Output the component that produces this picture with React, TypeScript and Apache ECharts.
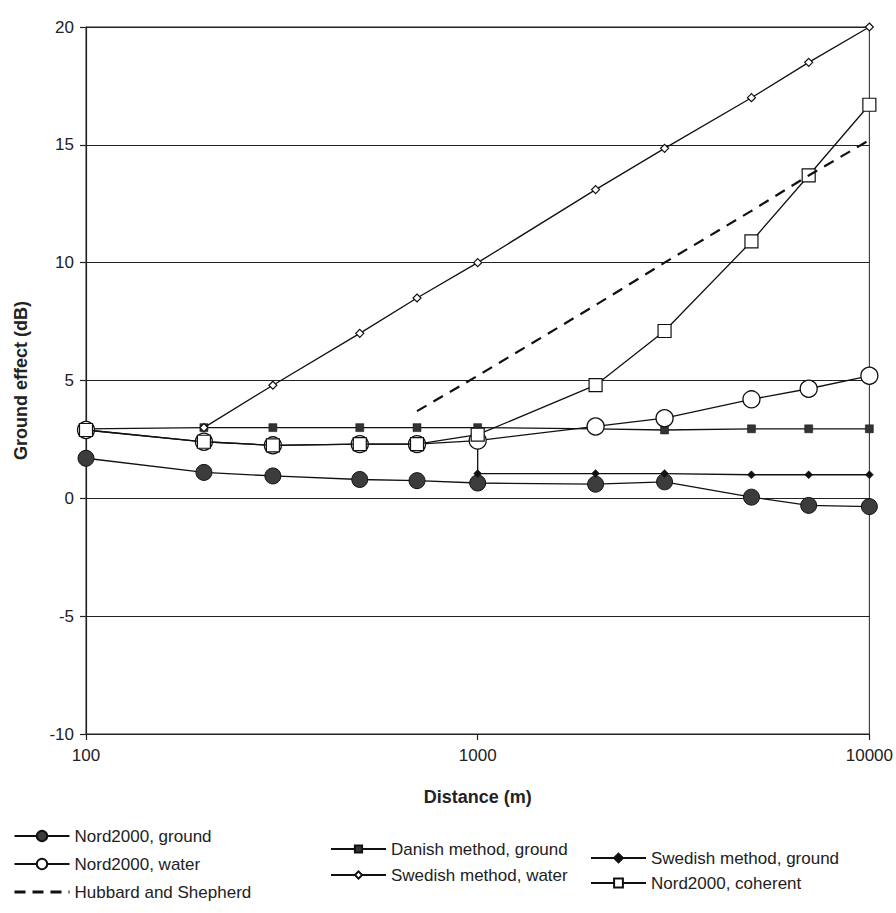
import React, { useEffect, useRef } from "react";
import * as echarts from "echarts";

const distances = [100, 200, 300, 500, 700, 1000, 2000, 3000, 5000, 7000, 10000];
const nordGround = [1.7, 1.1, 0.95, 0.8, 0.75, 0.65, 0.6, 0.7, 0.05, -0.3, -0.35];
const danishGround = [2.95, 3.0, 3.0, 3.0, 3.0, 3.0, 2.95, 2.9, 2.95, 2.95, 2.95];
const nordWater = [2.9, 2.4, 2.25, 2.3, 2.3, 2.45, 3.05, 3.4, 4.2, 4.65, 5.2];
const swedishWater = [null, 3.0, 4.8, 7.0, 8.5, 10.0, 13.1, 14.85, 17.0, 18.5, 20.0];
const nordCoherent = [2.9, 2.4, 2.25, 2.3, 2.3, 2.7, 4.8, 7.1, 10.9, 13.7, 16.7];
const swedishGroundDist = [1000, 1000, 2000, 3000, 5000, 7000, 10000];
const swedishGround = [2.45, 1.05, 1.05, 1.05, 1.0, 1.0, 1.0];
const hubbardDist = [700, 1000, 2000, 3000, 5000, 7000, 10000];
const hubbard = [3.7, 5.2, 8.2, 10.0, 12.2, 13.7, 15.2];

const yTicks = [-10, -5, 0, 5, 10, 15, 20];

const pair = (xs: number[], ys: (number | null)[]) =>
  xs.map((x, i) => [x, ys[i] === null ? "-" : ys[i]]);

const FONT = "'Liberation Sans', Arial, sans-serif";

export default function App() {
  const ref = useRef<HTMLDivElement>(null);
  useEffect(() => {
    if (!ref.current) return;
    const chart = echarts.init(ref.current, undefined, { renderer: "svg" });
    const lineBase = { color: "#111", width: 1.3 };
    const legendText = { fontFamily: FONT, fontSize: 17, color: "#222", lineHeight: 20 };
    const option: any = {
      animation: false,
      backgroundColor: "#fff",
      textStyle: { fontFamily: FONT, color: "#222" },
      grid: {
        left: 86,
        top: 27,
        width: 785,
        height: 707,
        show: true,
        borderColor: "#222",
        borderWidth: 1,
        backgroundColor: "transparent",
      },
      xAxis: {
        type: "log",
        logBase: 10,
        min: 100,
        max: 10000,
        name: "Distance (m)",
        nameLocation: "middle",
        nameGap: 54,
        nameTextStyle: { fontFamily: FONT, fontWeight: "bold", fontSize: 18, color: "#222" },
        axisLine: { show: true, onZero: false, lineStyle: { color: "#222", width: 1.2 } },
        axisTick: { show: true, inside: false, length: 6, lineStyle: { color: "#222", width: 1.2 } },
        minorTick: { show: false },
        splitLine: { show: false },
        axisLabel: {
          fontFamily: FONT,
          fontSize: 17,
          color: "#222",
          margin: 13,
          formatter: (v: number) => String(Math.round(v)),
        },
      },
      yAxis: {
        type: "value",
        min: yTicks[0],
        max: yTicks[yTicks.length - 1],
        interval: 5,
        name: "Ground effect (dB)",
        nameLocation: "middle",
        nameGap: 56,
        nameTextStyle: { fontFamily: FONT, fontWeight: "bold", fontSize: 18, color: "#222" },
        axisLine: { show: true, onZero: false, lineStyle: { color: "#222", width: 1.2 } },
        axisTick: { show: true, inside: false, length: 6, lineStyle: { color: "#222", width: 1.2 } },
        splitLine: { show: true, lineStyle: { color: "#222", width: 1 } },
        axisLabel: { fontFamily: FONT, fontSize: 17, color: "#222", margin: 12 },
      },
      legend: [
        {
          orient: "vertical",
          left: 13,
          top: 826,
          padding: 0,
          itemWidth: 55,
          itemHeight: 13,
          itemGap: 8,
          textStyle: legendText,
          data: [
            "Nord2000, ground",
            "Nord2000, water",
            {
              name: "Hubbard and Shepherd",
              itemStyle: { opacity: 0 },
              lineStyle: { width: 3, type: [11, 7] },
            },
          ],
        },
        {
          orient: "vertical",
          left: 330,
          top: 839,
          padding: 0,
          itemWidth: 55,
          itemHeight: 9,
          itemGap: 6,
          textStyle: legendText,
          data: ["Danish method, ground", "Swedish method, water"],
        },
        {
          orient: "vertical",
          left: 590,
          top: 848,
          padding: 0,
          itemWidth: 55,
          itemHeight: 11,
          itemGap: 5,
          textStyle: legendText,
          data: ["Swedish method, ground", "Nord2000, coherent"],
        },
      ],
      series: [
        {
          name: "Nord2000, ground",
          type: "line",
          data: pair(distances, nordGround),
          symbol: "circle",
          symbolSize: 16,
          lineStyle: lineBase,
          itemStyle: { color: "#3c3c3c", borderColor: "#111", borderWidth: 1 },
          z: 2,
        },
        {
          name: "Danish method, ground",
          type: "line",
          data: pair(distances, danishGround),
          symbol: "rect",
          symbolSize: 8,
          lineStyle: lineBase,
          itemStyle: { color: "#333", borderColor: "#111", borderWidth: 0.5 },
          z: 3,
        },
        {
          name: "Swedish method, ground",
          type: "line",
          data: pair(swedishGroundDist, swedishGround),
          symbol: "diamond",
          symbolSize: 8,
          lineStyle: lineBase,
          itemStyle: { color: "#111", borderColor: "#111", borderWidth: 0.5 },
          z: 4,
        },
        {
          name: "Nord2000, water",
          type: "line",
          data: pair(distances, nordWater),
          symbol: "circle",
          symbolSize: 17,
          lineStyle: lineBase,
          itemStyle: { color: "#fff", borderColor: "#111", borderWidth: 1.3 },
          z: 5,
        },
        {
          name: "Swedish method, water",
          type: "line",
          data: pair(distances, swedishWater),
          symbol: "diamond",
          symbolSize: 8,
          lineStyle: lineBase,
          itemStyle: { color: "#fff", borderColor: "#111", borderWidth: 1.2 },
          z: 6,
        },
        {
          name: "Nord2000, coherent",
          type: "line",
          data: pair(distances, nordCoherent),
          symbol: "rect",
          symbolSize: 13,
          lineStyle: lineBase,
          itemStyle: { color: "#fff", borderColor: "#111", borderWidth: 1.2 },
          z: 7,
        },
        {
          name: "Hubbard and Shepherd",
          type: "line",
          data: pair(hubbardDist, hubbard),
          symbol: "none",
          lineStyle: { color: "#111", width: 2.2, type: [11, 8] },
          itemStyle: { color: "#111" },
          z: 8,
        },
      ],
    };
    chart.setOption(option);
    return () => chart.dispose();
  }, []);
  return (
    <div
      ref={ref}
      style={{ position: "fixed", left: 0, top: 0, width: 896, height: 913, background: "#fff" }}
    />
  );
}
